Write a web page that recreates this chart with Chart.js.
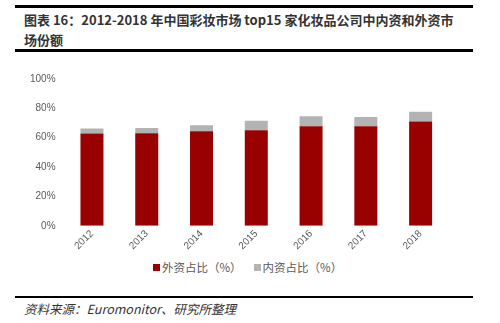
<!DOCTYPE html>
<html>
<head>
<meta charset="utf-8">
<script src="https://cdn.jsdelivr.net/npm/chart.js@4"></script>
<style>
  body { margin: 0; background: #fff; width: 500px; height: 323px; position: relative; overflow: hidden;
         font-family: "Noto Sans CJK SC", "DejaVu Sans", sans-serif; }
  .rule { position: absolute; left: 15px; width: 458px; background: #000; }
  #title { position: absolute; left: 24px; top: 10px; width: 435px; font-size: 13px; line-height: 20px;
           color: #333; font-weight: bold; }
  #source { position: absolute; left: 24px; top: 299px; font-size: 12.5px; font-style: italic; color: #333; }
  #chart-box { position: absolute; left: 14px; top: 64px; width: 460px; height: 192px; }
  #legend { position: absolute; left: 153px; top: 259px; display: flex; font-size: 11.5px; color: #595959;
            line-height: 16px; }
  #legend .item { display: flex; align-items: center; margin-right: 12px; }
  #legend .box { width: 7px; height: 7px; margin-right: 2px; }
</style>
</head>
<body>
<div class="rule" style="top:5px;height:3px;"></div>
<div id="title">图表 16：2012-2018 年中国彩妆市场 top15 家化妆品公司中内资和外资市场份额</div>
<div class="rule" style="top:49px;height:3px;"></div>
<div id="chart-box"><canvas id="myChart"></canvas></div>
<div id="legend"></div>
<div class="rule" style="top:296px;height:2px;"></div>
<div id="source">资料来源：Euromonitor、研究所整理</div>
<script>
const years = ['2012', '2013', '2014', '2015', '2016', '2017', '2018'];
const foreignShare = [62.8, 63.0, 64.4, 65.0, 67.8, 67.8, 71.1];
const domesticShare = [3.4, 3.7, 4.1, 6.6, 6.8, 6.3, 6.6];
const yTicks = [0, 20, 40, 60, 80, 100];

const ctx = document.getElementById('myChart').getContext('2d');
const chart = new Chart(ctx, {
  type: 'bar',
  data: {
    labels: years,
    datasets: [
      { label: '外资占比（%）', data: foreignShare, backgroundColor: '#990000',
        barPercentage: 0.42, categoryPercentage: 1 },
      { label: '内资占比（%）', data: domesticShare, backgroundColor: '#b3b3b3',
        barPercentage: 0.42, categoryPercentage: 1 }
    ]
  },
  options: {
    responsive: true,
    maintainAspectRatio: false,
    animation: false,
    layout: { padding: { left: 7, right: 26, top: 6, bottom: 2 } },
    plugins: {
      title: { display: false },
      tooltip: { enabled: false },
      legend: { display: false }
    },
    scales: {
      x: {
        stacked: true,
        grid: { display: false, drawTicks: false },
        border: { display: false },
        ticks: { color: '#595959', maxRotation: 45, minRotation: 45, padding: 2,
                 font: { size: 10, family: 'Liberation Sans, sans-serif' } }
      },
      y: {
        stacked: true,
        min: 0, max: 100,
        afterBuildTicks: (axis) => { axis.ticks = yTicks.map(v => ({ value: v })); },
        grid: { display: false, drawTicks: false },
        border: { display: false },
        ticks: { color: '#595959', padding: 9, callback: v => v + '%',
                 font: { size: 10, family: 'Liberation Sans, sans-serif' } }
      }
    }
  }
});

// legend built from the chart's datasets
const legend = document.getElementById('legend');
chart.data.datasets.forEach(ds => {
  const item = document.createElement('div');
  item.className = 'item';
  item.innerHTML = `<span class="box" style="background:${ds.backgroundColor}"></span><span>${ds.label}</span>`;
  legend.appendChild(item);
});
</script>
</body>
</html>
